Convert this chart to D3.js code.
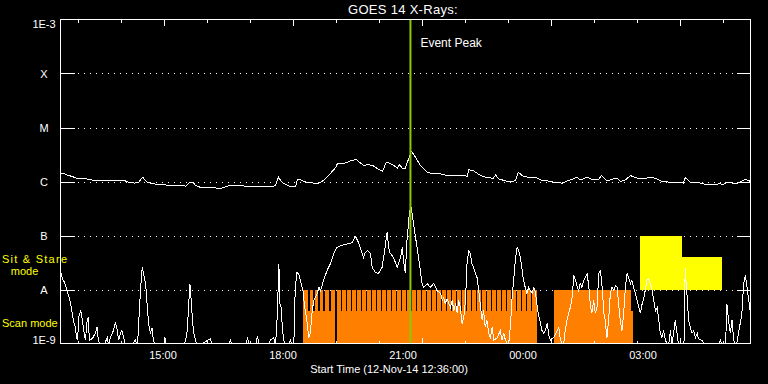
<!DOCTYPE html>
<html><head><meta charset="utf-8">
<script src="https://cdn.jsdelivr.net/npm/d3@7"></script>
<style>html,body{margin:0;background:#000;}svg{display:block;}</style>
</head><body>
<svg id="c" width="768" height="384"></svg>
<script>
// ---------------- data ----------------
const titleText = "GOES 14 X-Rays:";
const startLabel = "Start Time (12-Nov-14 12:36:00)";
const eventLabel = "Event Peak";
const levelValues = [1e-9, 1e-8, 1e-7, 1e-6, 1e-5, 1e-4, 1e-3];
const levelLabels = ["1E-9", "A", "B", "C", "M", "X", "1E-3"];
const startDate = [2014, 10, 12, 12, 36];   // 12-Nov-14 12:36
const spanHours = 16.05;                    // plotted duration
const eventPeakHours = 8.14;                // hours after start

// long channel (1-8 A): [hours after start, log10 flux]
const longChannel = [
 [0,-5.84],[0.07,-5.85],[0.16,-5.88],[0.28,-5.91],[0.37,-5.94],[0.47,-5.95],[0.58,-5.95],[0.65,-5.96],[0.79,-5.98],[0.93,-5.99],
 [1.16,-5.99],[1.51,-5.99],[1.58,-6.01],[1.72,-6.03],[1.81,-6.02],[1.91,-5.92],[1.95,-5.96],[2.02,-6.01],[2.14,-6.04],[2.33,-6.06],
 [2.56,-6.07],[2.86,-6.07],[2.91,-6.09],[3.02,-6.01],[3.07,-6.01],[3.14,-6.07],[3.26,-6.11],[3.49,-6.11],[3.72,-6.13],[3.95,-6.07],
 [4.19,-6.08],[4.42,-6.09],[4.65,-6.09],[4.88,-6.09],[5.00,-6.08],[5.07,-5.92],[5.16,-6.02],[5.35,-6.10],[5.47,-6.09],[5.51,-5.96],
 [5.58,-5.97],[5.70,-6.01],[5.81,-6.02],[5.95,-6.04],[6.05,-6.02],[6.16,-5.95],[6.28,-5.85],[6.40,-5.74],[6.44,-5.67],[6.58,-5.67],
 [6.74,-5.62],[6.88,-5.59],[6.95,-5.64],[7.05,-5.70],[7.14,-5.69],[7.26,-5.70],[7.37,-5.76],[7.49,-5.81],[7.58,-5.64],[7.67,-5.67],
 [7.74,-5.70],[7.84,-5.75],[7.88,-5.69],[7.95,-5.75],[8.02,-5.75],[8.07,-5.64],[8.16,-5.44],[8.21,-5.49],[8.37,-5.70],[8.53,-5.83],
 [8.67,-5.86],[8.84,-5.86],[9.00,-5.89],[9.30,-5.89],[9.47,-5.90],[9.49,-5.78],[9.60,-5.80],[9.77,-5.89],[9.93,-5.93],[10.07,-5.94],
 [10.12,-5.88],[10.19,-5.95],[10.35,-5.99],[10.51,-6.01],[10.58,-5.98],[10.65,-5.83],[10.77,-5.91],[10.88,-5.92],[11.05,-5.92],[11.16,-5.97],
 [11.33,-5.99],[11.47,-6.01],[11.67,-6.03],[11.79,-5.99],[11.93,-5.95],[12.02,-5.92],[12.09,-5.97],[12.26,-5.92],[12.37,-5.97],[12.51,-5.97],
 [12.58,-5.89],[12.72,-5.99],[12.86,-5.95],[12.95,-5.94],[13.02,-6.00],[13.14,-5.97],[13.26,-5.89],[13.37,-5.93],[13.56,-5.95],[13.72,-5.92],
 [13.84,-5.94],[14.00,-6.00],[14.14,-6.01],[14.26,-6.01],[14.37,-6.01],[14.49,-6.03],[14.53,-5.93],[14.65,-6.01],[14.81,-6.01],[14.93,-6.04],
 [15.05,-6.06],[15.19,-6.06],[15.35,-6.04],[15.40,-6.06],[15.51,-6.01],[15.63,-6.03],[15.74,-6.04],[15.81,-6.01],[15.93,-5.96],[16.00,-5.98],
 [16.05,-6.00]
];

// short channel (0.5-4 A): [hours after start, log10 flux]
const shortChannel = [
 [0.02,-7.70],[0.04,-7.80],[0.07,-7.83],[0.12,-7.93],[0.16,-8.06],[0.19,-8.11],[0.23,-8.24],[0.27,-8.43],[0.30,-8.57],[0.35,-8.72],
 [0.37,-8.89],[0.40,-8.94],[0.42,-8.52],[0.47,-8.39],[0.50,-8.52],[0.53,-8.70],[0.58,-8.94],[0.62,-8.57],[0.65,-8.52],[0.67,-8.94],
 [0.74,-8.91],[0.81,-8.81],[0.85,-8.70],[0.88,-8.94],[0.93,-9.05],[1.00,-9.05],[1.09,-8.89],[1.12,-9.05],[1.16,-8.89],[1.23,-8.76],
 [1.28,-8.61],[1.32,-8.76],[1.35,-8.94],[1.40,-8.80],[1.43,-8.76],[1.47,-8.89],[1.51,-9.05],[1.63,-9.05],[1.74,-8.94],[1.79,-9.05],
 [1.81,-8.76],[1.86,-8.02],[1.90,-7.59],[1.93,-7.70],[1.98,-7.89],[2.02,-8.33],[2.05,-8.63],[2.09,-8.81],[2.13,-8.72],[2.16,-8.94],
 [2.21,-9.05],[2.40,-9.05],[2.43,-8.89],[2.45,-9.05],[2.86,-9.05],[2.91,-8.94],[2.95,-8.76],[2.98,-8.30],[3.01,-7.89],[3.04,-8.20],
 [3.07,-8.57],[3.10,-8.81],[3.14,-8.94],[3.19,-9.05],[3.49,-8.91],[3.53,-9.05],[3.91,-9.05],[3.95,-8.93],[4.00,-9.05],[4.30,-9.05],
 [4.35,-8.91],[4.40,-9.05],[4.53,-9.05],[4.58,-8.87],[4.63,-9.05],[4.84,-9.05],[4.88,-8.94],[4.96,-8.89],[5.00,-9.05],[5.04,-8.52],
 [5.08,-7.52],[5.10,-8.26],[5.13,-8.33],[5.16,-8.70],[5.19,-8.94],[5.27,-9.05],[5.35,-8.94],[5.40,-9.05],[5.43,-8.94],[5.45,-8.20],
 [5.49,-7.69],[5.54,-7.70],[5.60,-7.89],[5.64,-8.02],[5.68,-8.33],[5.72,-8.52],[5.75,-8.70],[5.77,-8.89],[5.81,-8.81],[5.85,-8.44],
 [5.89,-8.20],[5.93,-8.15],[5.97,-8.07],[6.01,-7.96],[6.05,-8.02],[6.12,-7.83],[6.20,-7.65],[6.28,-7.52],[6.36,-7.33],[6.43,-7.22],
 [6.51,-7.19],[6.59,-7.17],[6.71,-7.15],[6.78,-7.13],[6.86,-7.02],[6.91,-7.09],[6.98,-7.24],[7.05,-7.41],[7.09,-7.31],[7.15,-7.28],
 [7.21,-7.33],[7.25,-7.59],[7.33,-7.69],[7.40,-7.70],[7.48,-7.59],[7.53,-7.33],[7.60,-6.93],[7.63,-7.22],[7.67,-7.33],[7.75,-7.41],
 [7.83,-7.59],[7.91,-7.41],[7.95,-7.22],[7.98,-7.46],[8.02,-7.70],[8.06,-7.09],[8.12,-6.54],[8.16,-6.50],[8.20,-6.72],[8.26,-7.04],
 [8.31,-7.31],[8.37,-7.65],[8.41,-7.89],[8.45,-7.96],[8.53,-7.89],[8.60,-7.96],[8.68,-7.89],[8.76,-8.02],[8.84,-8.07],[8.88,-8.20],
 [8.91,-8.15],[8.95,-8.26],[8.99,-8.17],[9.07,-8.33],[9.11,-8.20],[9.15,-8.39],[9.19,-8.26],[9.23,-8.44],[9.26,-8.20],[9.30,-8.33],
 [9.34,-8.63],[9.38,-8.52],[9.42,-8.20],[9.46,-7.46],[9.50,-7.28],[9.53,-7.33],[9.57,-7.52],[9.61,-7.59],[9.65,-7.70],[9.69,-7.78],
 [9.73,-8.02],[9.77,-8.33],[9.81,-8.57],[9.84,-8.39],[9.88,-8.70],[9.92,-8.57],[9.96,-8.81],[10.00,-8.89],[10.04,-8.70],[10.08,-8.94],
 [10.16,-8.89],[10.23,-8.76],[10.27,-8.94],[10.31,-8.81],[10.35,-8.94],[10.42,-9.05],[10.47,-8.63],[10.50,-8.20],[10.54,-7.83],[10.58,-7.46],
 [10.62,-7.22],[10.66,-7.28],[10.70,-7.43],[10.74,-7.65],[10.77,-7.83],[10.81,-7.96],[10.85,-8.07],[10.89,-7.96],[10.93,-8.02],[10.97,-8.07],
 [11.01,-7.96],[11.05,-8.07],[11.09,-8.33],[11.12,-8.48],[11.16,-8.61],[11.20,-8.76],[11.24,-8.81],[11.28,-8.76],[11.32,-8.63],[11.36,-8.85],
 [11.40,-8.94],[11.47,-8.89],[11.55,-8.76],[11.59,-8.70],[11.63,-8.94],[11.70,-9.05],[11.74,-8.76],[11.78,-8.57],[11.82,-8.44],[11.86,-8.33],
 [11.90,-8.15],[11.94,-7.74],[11.98,-7.83],[12.02,-7.96],[12.05,-8.02],[12.09,-7.89],[12.13,-7.96],[12.17,-7.83],[12.21,-7.78],[12.25,-7.70],
 [12.29,-7.96],[12.33,-8.33],[12.36,-8.44],[12.40,-8.20],[12.44,-8.44],[12.48,-8.33],[12.52,-7.70],[12.56,-7.65],[12.60,-7.96],[12.64,-8.44],
 [12.67,-8.57],[12.71,-8.89],[12.75,-8.57],[12.79,-8.07],[12.83,-7.96],[12.87,-8.02],[12.91,-7.93],[12.95,-7.96],[12.98,-8.26],[13.02,-8.57],
 [13.06,-8.76],[13.10,-8.44],[13.14,-7.96],[13.18,-7.70],[13.22,-7.80],[13.26,-7.89],[13.29,-7.83],[13.33,-7.96],[13.37,-8.07],[13.41,-8.20],
 [13.45,-8.33],[13.49,-8.44],[13.53,-8.26],[13.57,-8.15],[13.60,-8.02],[13.64,-7.83],[13.68,-7.80],[13.72,-7.89],[13.76,-8.02],[13.80,-8.20],
 [13.84,-8.39],[13.88,-8.33],[13.91,-8.52],[13.95,-8.81],[13.99,-8.89],[14.03,-8.76],[14.07,-8.94],[14.14,-9.05],[14.19,-8.76],[14.22,-9.05],
 [14.26,-8.81],[14.30,-8.57],[14.34,-8.81],[14.38,-9.05],[14.49,-9.05],[14.51,-8.91],[14.53,-7.61],[14.57,-8.07],[14.61,-8.57],[14.65,-8.70],
 [14.69,-8.81],[14.73,-8.76],[14.77,-8.89],[14.81,-8.81],[14.84,-8.91],[14.92,-8.94],[15.00,-9.05],[15.30,-9.05],[15.35,-8.94],[15.40,-9.05],
 [15.47,-9.05],[15.50,-8.26],[15.54,-8.57],[15.58,-8.81],[15.62,-8.57],[15.66,-8.94],[15.72,-9.05],[15.77,-8.81],[15.81,-8.63],[15.85,-8.44],
 [15.89,-7.89],[15.93,-7.74],[15.97,-7.96],[16.01,-8.20],[16.05,-8.44]
];

// scan-mode rasters (hours after start)
const scanRasterStarts = [5.644,5.798,5.914,6.030,6.147,6.286,6.426,6.551,6.667,6.784,
 6.900,7.016,7.133,7.249,7.365,7.481,7.598,7.714,7.830,7.947,
 8.063,8.179,8.295,8.412,8.528,8.644,8.760,8.877,8.993,9.109,
 9.226,9.342,9.458,9.574,9.691,9.807,9.923,10.040,10.156,10.272,
 10.388,10.505,10.621,10.737,10.853,10.970];
const scanRasterEnd = 11.086;
const scanRasterDeadTime = 0.03;
const scanLowBlocks = [[5.644,6.379],[6.426,11.086],[11.488,13.326]];
const scanFullBlocks = [[11.488,13.279]];
const scanLowTopLog = -8.39;
// sit & stare: [start, end, top log10 level]
const sitStareBlocks = [[13.488,14.465,-7.00],[14.465,15.395,-7.39]];

// ---------------- drawing ----------------
const svg = d3.select("#c");
const W = 768, H = 384;
svg.append("rect").attr("width", W).attr("height", H).attr("fill", "#000");

const t0 = new Date(startDate[0], startDate[1], startDate[2], startDate[3], startDate[4]);
const hToDate = h => new Date(t0.getTime() + h * 3600e3);
const t1 = hToDate(spanHours);

const L = 60.5, R = 750.5, T = 19.5, B = 343.5;
const x = d3.scaleTime().domain([t0, t1]).range([L, R]);
const xLabel = d3.scaleTime().domain([t0, t1]).range([67, 709]);
const y = d3.scaleLog().domain([1e-9, 1e-3]).range([B, T]);
const fy = v => y(Math.pow(10, v));

const font = "'Liberation Sans', Arial, sans-serif";
const white = "#ffffff";

svg.append("defs").append("clipPath").attr("id", "plotclip")
  .append("rect").attr("x", L).attr("y", T).attr("width", R - L).attr("height", B - T);

// dotted grid
const gridVals = levelValues.slice(1, -1);
svg.append("g").selectAll("line").data(gridVals).join("line")
  .attr("x1", 78).attr("x2", R - 14)
  .attr("y1", d => Math.round(y(d)) + 0.5).attr("y2", d => Math.round(y(d)) + 0.5)
  .attr("stroke", white).attr("stroke-width", 1).attr("stroke-dasharray", "1 5")
  .attr("shape-rendering", "crispEdges");

const plot = svg.append("g").attr("clip-path", "url(#plotclip)");

// orange scan blocks
const orange = "#ff8000";
plot.append("g").selectAll("rect").data(scanLowBlocks).join("rect")
  .attr("x", d => x(hToDate(d[0]))).attr("width", d => x(hToDate(d[1])) - x(hToDate(d[0])))
  .attr("y", fy(scanLowTopLog)).attr("height", B - fy(scanLowTopLog))
  .attr("fill", orange).attr("shape-rendering", "crispEdges");
const rasters = scanRasterStarts.map((s, i) => [s, i < scanRasterStarts.length - 1 ? scanRasterStarts[i + 1] - scanRasterDeadTime : scanRasterEnd]);
plot.append("g").selectAll("rect").data(rasters.concat(scanFullBlocks)).join("rect")
  .attr("x", d => x(hToDate(d[0]))).attr("width", d => x(hToDate(d[1])) - x(hToDate(d[0])))
  .attr("y", y(1e-8)).attr("height", B - y(1e-8))
  .attr("fill", orange).attr("shape-rendering", "crispEdges");

// yellow sit & stare
plot.append("g").selectAll("rect").data(sitStareBlocks).join("rect")
  .attr("x", d => x(hToDate(d[0]))).attr("width", d => x(hToDate(d[1])) - x(hToDate(d[0])))
  .attr("y", d => fy(d[2])).attr("height", d => y(1e-8) - fy(d[2]))
  .attr("fill", "#ffff00").attr("shape-rendering", "crispEdges");

// data lines
const line = d3.line().x(d => x(hToDate(d[0]))).y(d => fy(d[1]));
plot.append("path").datum(longChannel).attr("d", line)
  .attr("fill", "none").attr("stroke", white).attr("stroke-width", 1).attr("shape-rendering", "crispEdges");
plot.append("path").datum(shortChannel).attr("d", line)
  .attr("fill", "none").attr("stroke", white).attr("stroke-width", 1).attr("shape-rendering", "crispEdges");

// event peak line
const xp = x(hToDate(eventPeakHours));
svg.append("line").attr("x1", xp).attr("x2", xp).attr("y1", T).attr("y2", B)
  .attr("stroke", "#8cc800").attr("stroke-width", 2);
svg.append("text").attr("x", xp + 10).attr("y", 47).text(eventLabel)
  .attr("fill", white).attr("font-family", font).attr("font-size", 12);

// frame
svg.append("rect").attr("x", L).attr("y", T).attr("width", R - L).attr("height", B - T)
  .attr("fill", "none").attr("stroke", white).attr("stroke-width", 1).attr("shape-rendering", "crispEdges");

// time ticks
const minorTicks = x.ticks(d3.timeHour.every(1));
const majorTicks = x.ticks(d3.timeHour.every(3));
const isMajor = d => majorTicks.some(m => +m === +d);
const tg = svg.append("g").attr("stroke", white).attr("shape-rendering", "crispEdges");
tg.selectAll("line.top").data(minorTicks).join("line").attr("class", "top")
  .attr("x1", d => Math.round(x(d)) + 0.5).attr("x2", d => Math.round(x(d)) + 0.5)
  .attr("y1", T).attr("y2", d => T + (isMajor(d) ? 6 : 3));
tg.selectAll("line.bot").data(minorTicks).join("line").attr("class", "bot")
  .attr("x1", d => Math.round(x(d)) + 0.5).attr("x2", d => Math.round(x(d)) + 0.5)
  .attr("y1", B).attr("y2", d => B - (isMajor(d) ? 6 : 3));

// level ticks
tg.selectAll("line.yl").data(gridVals).join("line").attr("class", "yl")
  .attr("x1", L).attr("x2", L + 14)
  .attr("y1", d => Math.round(y(d)) + 0.5).attr("y2", d => Math.round(y(d)) + 0.5);
tg.selectAll("line.yr").data(gridVals).join("line").attr("class", "yr")
  .attr("x1", R - 14).attr("x2", R)
  .attr("y1", d => Math.round(y(d)) + 0.5).attr("y2", d => Math.round(y(d)) + 0.5);

// level labels
svg.append("g").selectAll("text").data(levelValues).join("text")
  .attr("x", 44).attr("text-anchor", "middle")
  .attr("y", (d, i) => y(d) + (i === levelValues.length - 1 ? 8 : (i === 0 ? 0.5 : 4.5)))
  .text((d, i) => levelLabels[i])
  .attr("fill", white).attr("font-family", font).attr("font-size", 11);

// time labels
const fmt = d3.timeFormat("%H:%M");
svg.append("g").selectAll("text").data(majorTicks).join("text")
  .attr("x", d => xLabel(d)).attr("y", 359).attr("text-anchor", "middle")
  .text(d => fmt(d)).attr("fill", white).attr("font-family", font).attr("font-size", 11);

svg.append("text").attr("x", 389).attr("y", 373).attr("text-anchor", "middle").text(startLabel)
  .attr("fill", white).attr("font-family", font).attr("font-size", 11);

// title
svg.append("text").attr("x", 403).attr("y", 14).attr("text-anchor", "middle").text(titleText)
  .attr("fill", white).attr("font-family", font).attr("font-size", 13).attr("letter-spacing", 0.3);

// mode labels
const yel = "#ffff00";
svg.append("text").attr("x", 2).attr("y", 263).text("Sit & Stare")
  .attr("fill", yel).attr("font-family", font).attr("font-size", 11)
  .attr("textLength", 65).attr("lengthAdjust", "spacing");
svg.append("text").attr("x", 24.5).attr("y", 275).attr("text-anchor", "middle").text("mode")
  .attr("fill", yel).attr("font-family", font).attr("font-size", 11);
svg.append("text").attr("x", 2).attr("y", 327).text("Scan mode")
  .attr("fill", yel).attr("font-family", font).attr("font-size", 11);
</script>
</body></html>
